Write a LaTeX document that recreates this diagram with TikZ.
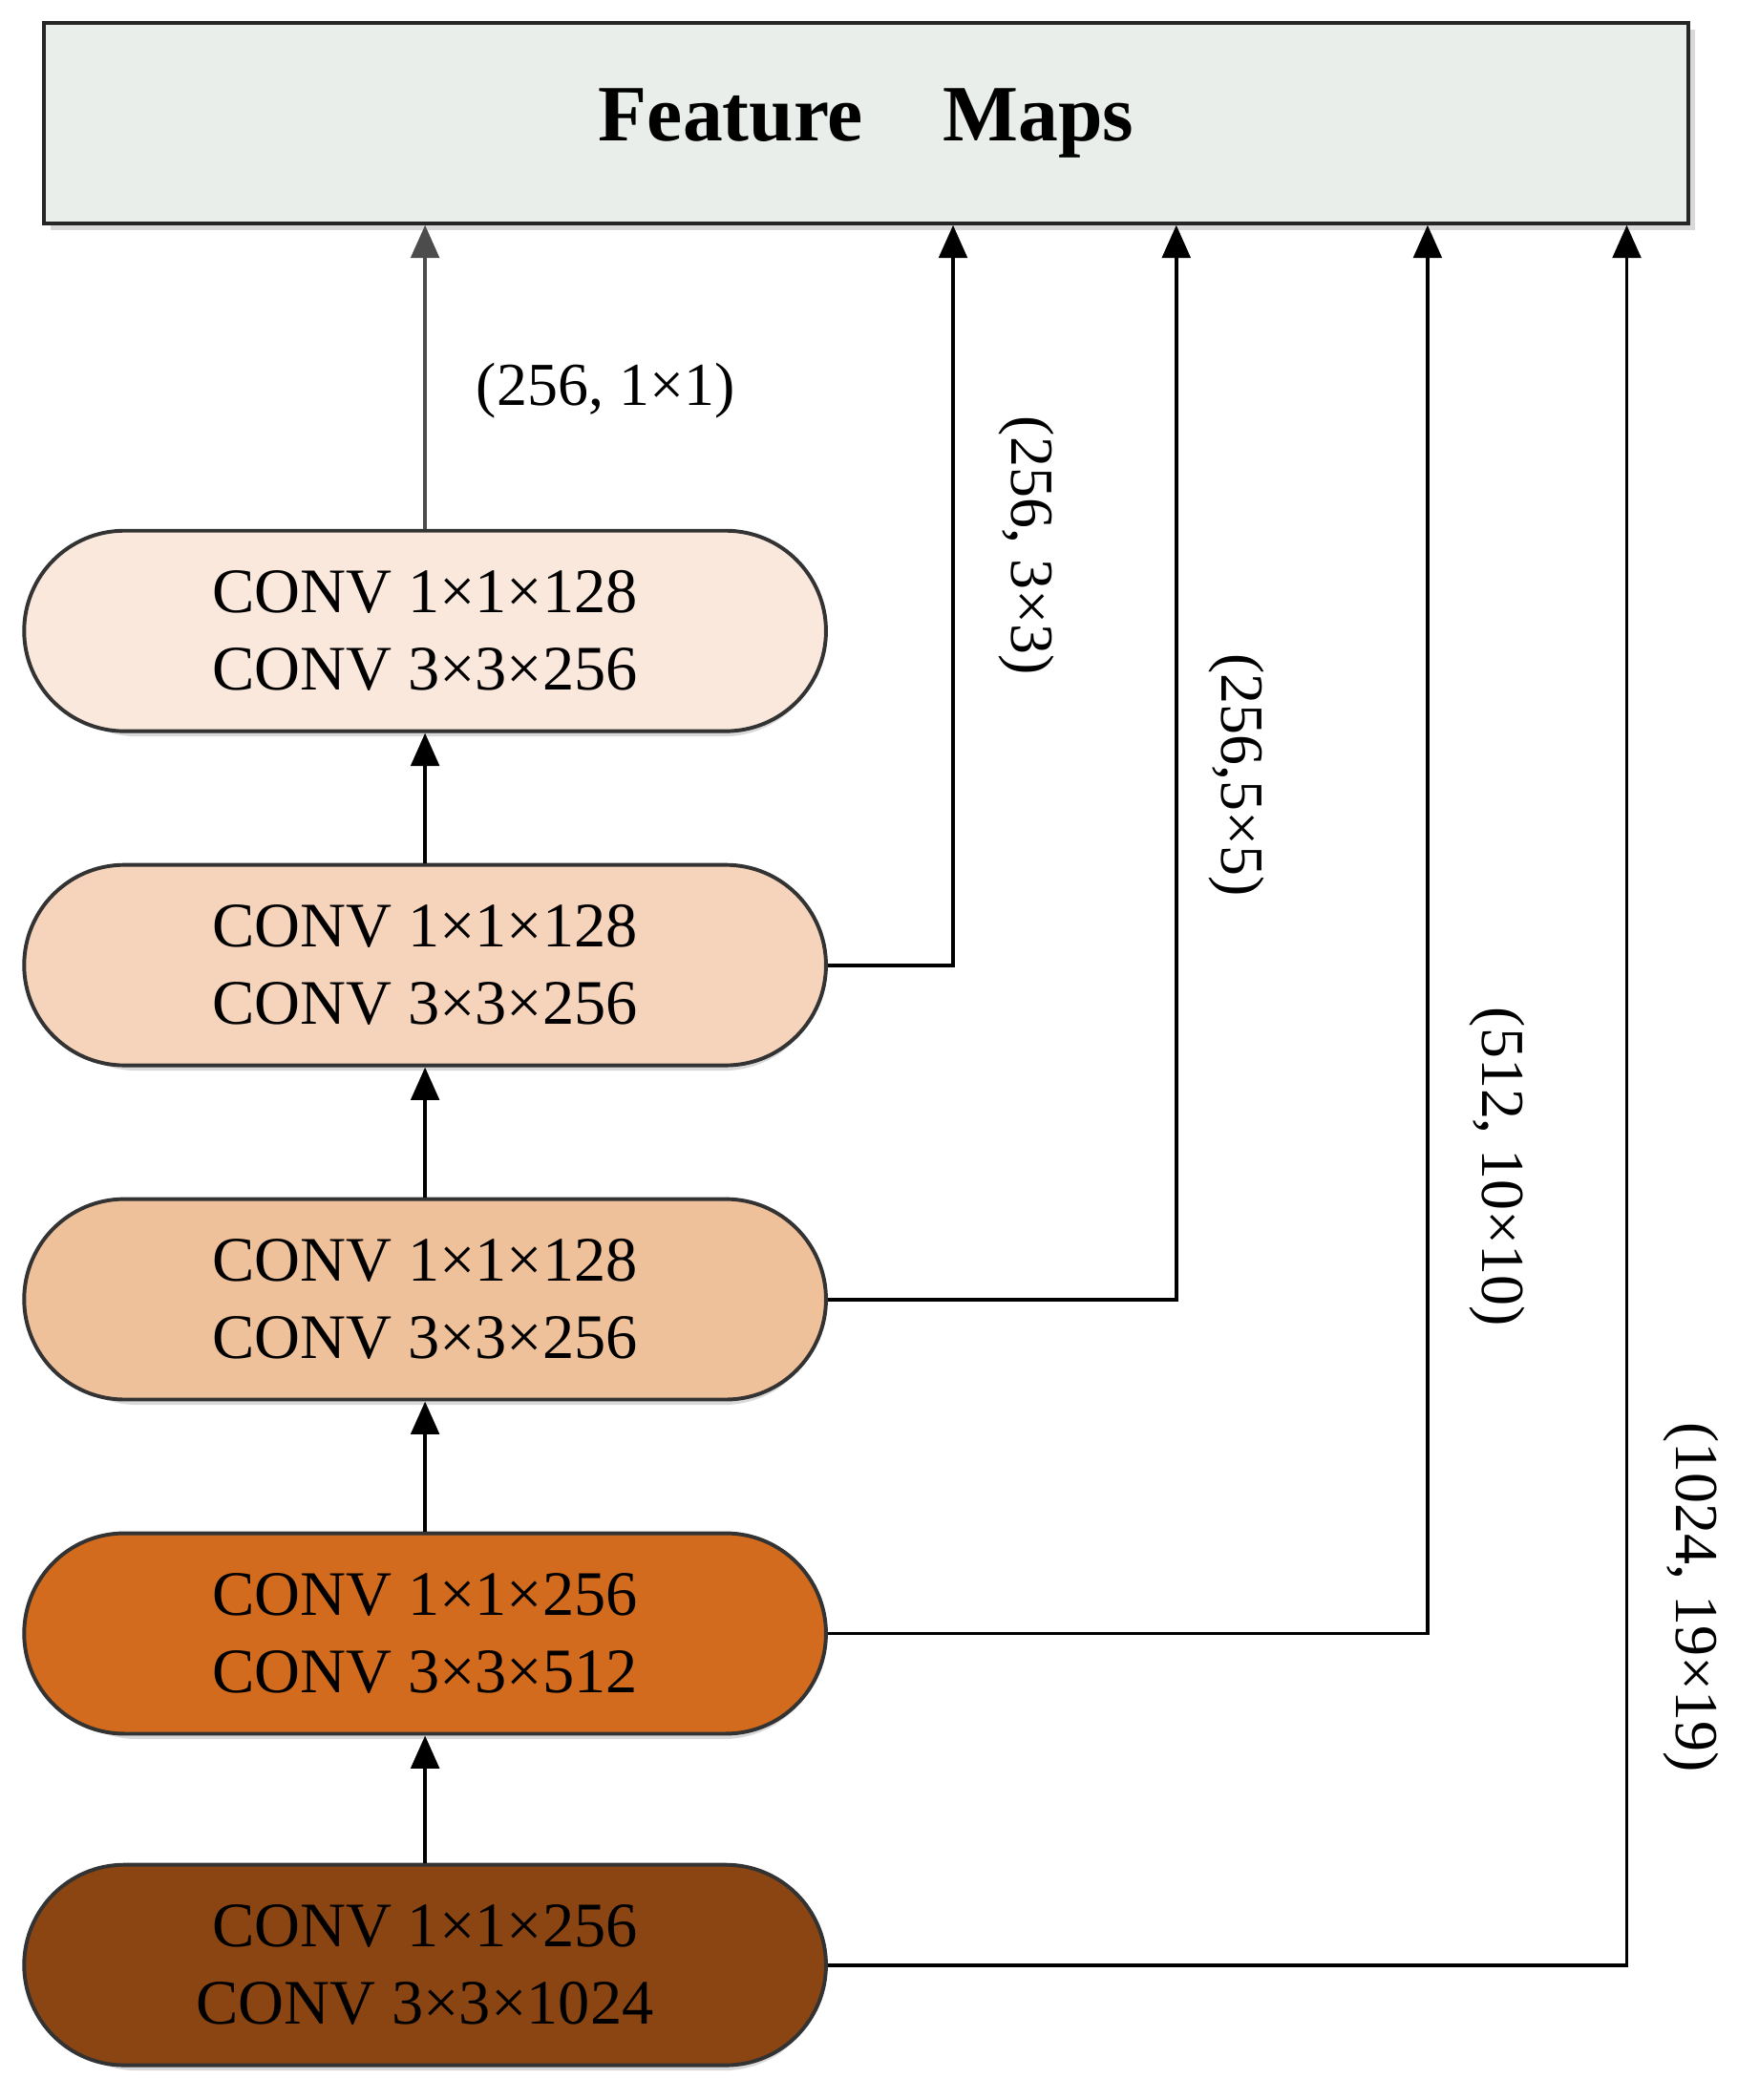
\documentclass[tikz,border=0pt]{standalone}
\usepackage{fontspec}
\setmainfont{Liberation Serif}
\usetikzlibrary{shapes.misc,arrows.meta}
\begin{document}
\begin{tikzpicture}[x=0.02cm,y=-0.02cm]
\tikzset{
  pill/.style={rounded rectangle,draw=black!80,line width=1.6pt,minimum width=12cm,minimum height=3cm,
    align=center,font=\fontsize{27}{33}\selectfont,inner sep=0pt},
  shade/.style={rounded rectangle,fill=black!15,minimum width=12cm,minimum height=3cm},
  conn/.style={-{Triangle[length=14pt,width=12pt]},line width=1.6pt},
  lab/.style={font=\fontsize{26}{30}\selectfont}
}
\useasboundingbox (0,0) rectangle (1300,1571);
\definecolor{fm}{HTML}{E9EEEA}
\definecolor{c1}{HTML}{FAE8DC}
\definecolor{c2}{HTML}{F6D4BC}
\definecolor{c3}{HTML}{EFC19B}
\definecolor{c4}{HTML}{D26B1D}
\definecolor{c5}{HTML}{8B4513}
\fill[black!15] (38,22) rectangle (1268,172);
\node[draw=black!85,fill=fm,line width=1.6pt,minimum width=24.6cm,minimum height=3cm,
  font=\bfseries\fontsize{34}{40}\selectfont] (fm) at (648,92) {Feature\quad Maps};
\foreach \y in {472,722,972,1222,1470}{
  \node[shade] at (322,\y+4) {};
}
\node[pill,fill=c1] (p1) at (318,472) {CONV 1×1×128\\CONV 3×3×256};
\node[pill,fill=c2] (p2) at (318,722) {CONV 1×1×128\\CONV 3×3×256};
\node[pill,fill=c3] (p3) at (318,972) {CONV 1×1×128\\CONV 3×3×256};
\node[pill,fill=c4] (p4) at (318,1222) {CONV 1×1×256\\CONV 3×3×512};
\node[pill,fill=c5] (p5) at (318,1470) {CONV 1×1×256\\CONV 3×3×1024};
\draw[conn,draw=black!70] (p1.north) -- (p1.north |- fm.south);
\draw[conn] (p2.north) -- (p1.south);
\draw[conn] (p3.north) -- (p2.south);
\draw[conn] (p4.north) -- (p3.south);
\draw[conn] (p5.north) -- (p4.south);
\coordinate (t2) at (713,0);
\coordinate (t3) at (880,0);
\coordinate (t4) at (1068,0);
\coordinate (t5) at (1217,0);
\draw[conn] (p2.east) -| (t2 |- fm.south);
\draw[conn] (p3.east) -| (t3 |- fm.south);
\draw[conn] (p4.east) -| (t4 |- fm.south);
\draw[conn] (p5.east) -| (t5 |- fm.south);
\node[lab] (l1) at (453,292) {(256, 1×1)};
\node[lab,rotate=-90] (l2) at (768,408) {(256, 3×3)};
\node[lab,rotate=-90] (l3) at (925,580) {(256,5×5)};
\node[lab,rotate=-90] (l4) at (1120,873) {(512, 10×10)};
\node[lab,rotate=-90] (l5) at (1265,1195) {(1024, 19×19)};
\end{tikzpicture}
\end{document}
